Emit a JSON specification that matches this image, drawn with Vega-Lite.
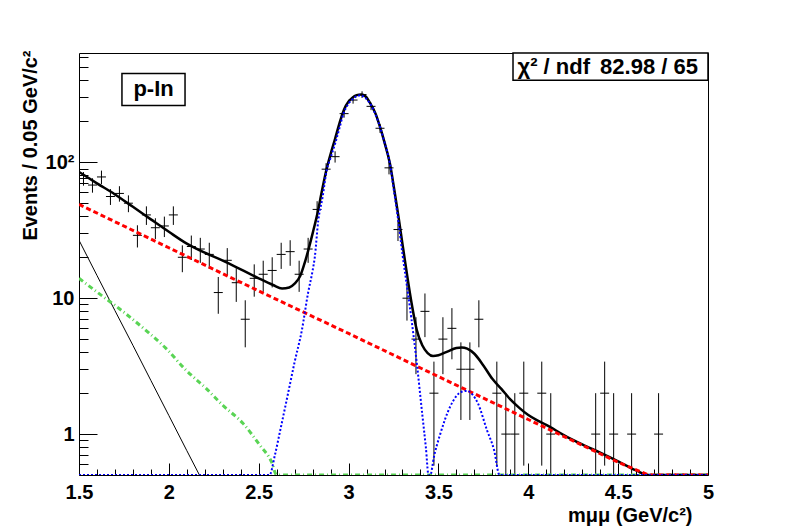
{
  "$schema": "https://vega.github.io/schema/vega-lite/v6.json",
  "width": 629,
  "height": 422,
  "autosize": {"type": "none"},
  "padding": {"left": 79, "top": 53, "right": 80, "bottom": 53},
  "background": "white",
  "config": {
    "view": {"stroke": "black", "strokeWidth": 1},
    "font": "Liberation Sans",
    "axis": {"grid": false, "domain": false, "tickColor": "black", "tickWidth": 1, "labelColor": "black", "titleColor": "black", "labelFont": "Liberation Sans", "titleFont": "Liberation Sans", "labelFontWeight": "bold", "titleFontWeight": "bold", "labelFontSize": 20, "titleFontSize": 20}
  },
  "datasets": {
    "pts": [
      {"x": 1.525, "n": 76, "lo": 67.28, "hi": 84.72, "xl": 1.5, "xr": 1.55},
      {"x": 1.575, "n": 68, "lo": 59.75, "hi": 76.25, "xl": 1.55, "xr": 1.6},
      {"x": 1.625, "n": 78, "lo": 69.17, "hi": 86.83, "xl": 1.6, "xr": 1.65},
      {"x": 1.675, "n": 56, "lo": 48.52, "hi": 63.48, "xl": 1.65, "xr": 1.7},
      {"x": 1.725, "n": 59, "lo": 51.32, "hi": 66.68, "xl": 1.7, "xr": 1.75},
      {"x": 1.775, "n": 50, "lo": 42.93, "hi": 57.07, "xl": 1.75, "xr": 1.8},
      {"x": 1.825, "n": 29, "lo": 23.61, "hi": 34.39, "xl": 1.8, "xr": 1.85},
      {"x": 1.875, "n": 41, "lo": 34.6, "hi": 47.4, "xl": 1.85, "xr": 1.9},
      {"x": 1.925, "n": 33, "lo": 27.26, "hi": 38.74, "xl": 1.9, "xr": 1.95},
      {"x": 1.975, "n": 34, "lo": 28.17, "hi": 39.83, "xl": 1.95, "xr": 2.0},
      {"x": 2.025, "n": 41, "lo": 34.6, "hi": 47.4, "xl": 2.0, "xr": 2.05},
      {"x": 2.075, "n": 20, "lo": 15.53, "hi": 24.47, "xl": 2.05, "xr": 2.1},
      {"x": 2.125, "n": 24, "lo": 19.1, "hi": 28.9, "xl": 2.1, "xr": 2.15},
      {"x": 2.175, "n": 23, "lo": 18.2, "hi": 27.8, "xl": 2.15, "xr": 2.2},
      {"x": 2.225, "n": 21, "lo": 16.42, "hi": 25.58, "xl": 2.2, "xr": 2.25},
      {"x": 2.275, "n": 11, "lo": 7.68, "hi": 14.32, "xl": 2.25, "xr": 2.3},
      {"x": 2.325, "n": 19, "lo": 14.64, "hi": 23.36, "xl": 2.3, "xr": 2.35},
      {"x": 2.375, "n": 13, "lo": 9.39, "hi": 16.61, "xl": 2.35, "xr": 2.4},
      {"x": 2.425, "n": 7, "lo": 4.35, "hi": 9.65, "xl": 2.4, "xr": 2.45},
      {"x": 2.475, "n": 14, "lo": 10.26, "hi": 17.74, "xl": 2.45, "xr": 2.5},
      {"x": 2.525, "n": 15, "lo": 11.13, "hi": 18.87, "xl": 2.5, "xr": 2.55},
      {"x": 2.575, "n": 16, "lo": 12, "hi": 20, "xl": 2.55, "xr": 2.6},
      {"x": 2.625, "n": 21, "lo": 16.42, "hi": 25.58, "xl": 2.6, "xr": 2.65},
      {"x": 2.675, "n": 22, "lo": 17.31, "hi": 26.69, "xl": 2.65, "xr": 2.7},
      {"x": 2.725, "n": 15, "lo": 11.13, "hi": 18.87, "xl": 2.7, "xr": 2.75},
      {"x": 2.775, "n": 23, "lo": 18.2, "hi": 27.8, "xl": 2.75, "xr": 2.8},
      {"x": 2.825, "n": 45, "lo": 38.29, "hi": 51.71, "xl": 2.8, "xr": 2.85},
      {"x": 2.875, "n": 89, "lo": 79.57, "hi": 98.43, "xl": 2.85, "xr": 2.9},
      {"x": 2.925, "n": 110, "lo": 99.51, "hi": 120.49, "xl": 2.9, "xr": 2.95},
      {"x": 2.975, "n": 228, "lo": 212.9, "hi": 243.1, "xl": 2.95, "xr": 3.0},
      {"x": 3.025, "n": 287, "lo": 270.06, "hi": 303.94, "xl": 3.0, "xr": 3.05},
      {"x": 3.075, "n": 315, "lo": 297.25, "hi": 332.75, "xl": 3.05, "xr": 3.1},
      {"x": 3.125, "n": 258, "lo": 241.94, "hi": 274.06, "xl": 3.1, "xr": 3.15},
      {"x": 3.175, "n": 178, "lo": 164.66, "hi": 191.34, "xl": 3.15, "xr": 3.2},
      {"x": 3.225, "n": 91, "lo": 81.46, "hi": 100.54, "xl": 3.2, "xr": 3.25},
      {"x": 3.275, "n": 32, "lo": 26.34, "hi": 37.66, "xl": 3.25, "xr": 3.3},
      {"x": 3.325, "n": 10, "lo": 6.84, "hi": 13.16, "xl": 3.3, "xr": 3.35},
      {"x": 3.375, "n": 5, "lo": 2.76, "hi": 7.24, "xl": 3.35, "xr": 3.4},
      {"x": 3.425, "n": 8, "lo": 5.17, "hi": 10.83, "xl": 3.4, "xr": 3.45},
      {"x": 3.475, "n": 2, "lo": 0.586, "hi": 3.414, "xl": 3.45, "xr": 3.5},
      {"x": 3.525, "n": 5, "lo": 2.76, "hi": 7.24, "xl": 3.5, "xr": 3.55},
      {"x": 3.575, "n": 6, "lo": 3.55, "hi": 8.45, "xl": 3.55, "xr": 3.6},
      {"x": 3.625, "n": 3, "lo": 1.27, "hi": 4.73, "xl": 3.6, "xr": 3.65},
      {"x": 3.675, "n": 3, "lo": 1.27, "hi": 4.73, "xl": 3.65, "xr": 3.7},
      {"x": 3.725, "n": 7, "lo": 4.35, "hi": 9.65, "xl": 3.7, "xr": 3.75},
      {"x": 3.825, "n": 2, "lo": 0.586, "hi": 3.414, "xl": 3.8, "xr": 3.85},
      {"x": 3.875, "n": 1, "lo": 0.5, "hi": 2, "xl": 3.85, "xr": 3.9},
      {"x": 3.925, "n": 1, "lo": 0.5, "hi": 2, "xl": 3.9, "xr": 3.95},
      {"x": 3.975, "n": 2, "lo": 0.586, "hi": 3.414, "xl": 3.95, "xr": 4.0},
      {"x": 4.075, "n": 2, "lo": 0.586, "hi": 3.414, "xl": 4.05, "xr": 4.1},
      {"x": 4.125, "n": 1, "lo": 0.5, "hi": 2, "xl": 4.1, "xr": 4.15},
      {"x": 4.375, "n": 1, "lo": 0.5, "hi": 2, "xl": 4.35, "xr": 4.4},
      {"x": 4.425, "n": 2, "lo": 0.586, "hi": 3.414, "xl": 4.4, "xr": 4.45},
      {"x": 4.475, "n": 1, "lo": 0.5, "hi": 2, "xl": 4.45, "xr": 4.5},
      {"x": 4.575, "n": 1, "lo": 0.5, "hi": 2, "xl": 4.55, "xr": 4.6},
      {"x": 4.725, "n": 1, "lo": 0.5, "hi": 2, "xl": 4.7, "xr": 4.75}
    ],
    "curves": [
      {"c": "total", "x": 1.5, "y": 85}, {"c": "total", "x": 1.6, "y": 70}, {"c": "total", "x": 1.7, "y": 58},
      {"c": "total", "x": 1.8, "y": 47}, {"c": "total", "x": 1.9, "y": 38}, {"c": "total", "x": 2.0, "y": 30.8},
      {"c": "total", "x": 2.1, "y": 25.2}, {"c": "total", "x": 2.2, "y": 21.6}, {"c": "total", "x": 2.3, "y": 18.9},
      {"c": "total", "x": 2.4, "y": 16.3}, {"c": "total", "x": 2.5, "y": 14}, {"c": "total", "x": 2.58, "y": 12.5},
      {"c": "total", "x": 2.63, "y": 11.8}, {"c": "total", "x": 2.67, "y": 12}, {"c": "total", "x": 2.7, "y": 12.8},
      {"c": "total", "x": 2.73, "y": 14.5}, {"c": "total", "x": 2.76, "y": 19}, {"c": "total", "x": 2.8, "y": 30},
      {"c": "total", "x": 2.83, "y": 44}, {"c": "total", "x": 2.85, "y": 60}, {"c": "total", "x": 2.88, "y": 92},
      {"c": "total", "x": 2.9, "y": 115}, {"c": "total", "x": 2.925, "y": 149}, {"c": "total", "x": 2.95, "y": 195},
      {"c": "total", "x": 2.975, "y": 245}, {"c": "total", "x": 3.0, "y": 280}, {"c": "total", "x": 3.02, "y": 298},
      {"c": "total", "x": 3.045, "y": 312}, {"c": "total", "x": 3.07, "y": 316}, {"c": "total", "x": 3.095, "y": 305},
      {"c": "total", "x": 3.12, "y": 272}, {"c": "total", "x": 3.15, "y": 228}, {"c": "total", "x": 3.175, "y": 182},
      {"c": "total", "x": 3.2, "y": 140}, {"c": "total", "x": 3.23, "y": 98}, {"c": "total", "x": 3.255, "y": 62},
      {"c": "total", "x": 3.28, "y": 38}, {"c": "total", "x": 3.3, "y": 25}, {"c": "total", "x": 3.325, "y": 15},
      {"c": "total", "x": 3.35, "y": 9.3}, {"c": "total", "x": 3.38, "y": 5.8}, {"c": "total", "x": 3.41, "y": 4.5},
      {"c": "total", "x": 3.44, "y": 3.95}, {"c": "total", "x": 3.47, "y": 3.75}, {"c": "total", "x": 3.5, "y": 3.8},
      {"c": "total", "x": 3.55, "y": 4.05}, {"c": "total", "x": 3.6, "y": 4.3}, {"c": "total", "x": 3.63, "y": 4.34},
      {"c": "total", "x": 3.66, "y": 4.25}, {"c": "total", "x": 3.7, "y": 3.9}, {"c": "total", "x": 3.75, "y": 3.2},
      {"c": "total", "x": 3.8, "y": 2.55}, {"c": "total", "x": 3.85, "y": 2.15}, {"c": "total", "x": 3.9, "y": 1.8},
      {"c": "total", "x": 3.95, "y": 1.56}, {"c": "total", "x": 4.0, "y": 1.38}, {"c": "total", "x": 4.05, "y": 1.26},
      {"c": "total", "x": 4.1, "y": 1.17}, {"c": "total", "x": 4.2, "y": 0.98}, {"c": "total", "x": 4.3, "y": 0.84},
      {"c": "total", "x": 4.4, "y": 0.73}, {"c": "total", "x": 4.5, "y": 0.63}, {"c": "total", "x": 4.6, "y": 0.54},
      {"c": "total", "x": 4.67, "y": 0.5}, {"c": "total", "x": 5.0, "y": 0.5},
      {"c": "blue", "x": 1.5, "y": 0.5}, {"c": "blue", "x": 2.56, "y": 0.5}, {"c": "blue", "x": 2.59, "y": 0.7},
      {"c": "blue", "x": 2.62, "y": 1.07}, {"c": "blue", "x": 2.66, "y": 1.9}, {"c": "blue", "x": 2.7, "y": 3.4},
      {"c": "blue", "x": 2.74, "y": 5.8}, {"c": "blue", "x": 2.775, "y": 11}, {"c": "blue", "x": 2.8, "y": 16},
      {"c": "blue", "x": 2.812, "y": 20}, {"c": "blue", "x": 2.831, "y": 37}, {"c": "blue", "x": 2.855, "y": 55},
      {"c": "blue", "x": 2.878, "y": 87}, {"c": "blue", "x": 2.9, "y": 108}, {"c": "blue", "x": 2.925, "y": 137},
      {"c": "blue", "x": 2.95, "y": 180}, {"c": "blue", "x": 2.97, "y": 225}, {"c": "blue", "x": 3.0, "y": 270},
      {"c": "blue", "x": 3.02, "y": 290}, {"c": "blue", "x": 3.045, "y": 306}, {"c": "blue", "x": 3.065, "y": 311},
      {"c": "blue", "x": 3.09, "y": 300}, {"c": "blue", "x": 3.12, "y": 270}, {"c": "blue", "x": 3.15, "y": 225},
      {"c": "blue", "x": 3.175, "y": 182}, {"c": "blue", "x": 3.2, "y": 140}, {"c": "blue", "x": 3.23, "y": 98},
      {"c": "blue", "x": 3.25, "y": 65}, {"c": "blue", "x": 3.278, "y": 36}, {"c": "blue", "x": 3.3, "y": 21},
      {"c": "blue", "x": 3.324, "y": 12.5}, {"c": "blue", "x": 3.35, "y": 7}, {"c": "blue", "x": 3.38, "y": 3.3},
      {"c": "blue", "x": 3.41, "y": 1.4}, {"c": "blue", "x": 3.43, "y": 0.8}, {"c": "blue", "x": 3.445, "y": 0.5},
      {"c": "blue", "x": 3.455, "y": 0.5}, {"c": "blue", "x": 3.475, "y": 0.68}, {"c": "blue", "x": 3.51, "y": 1.0},
      {"c": "blue", "x": 3.565, "y": 1.59}, {"c": "blue", "x": 3.63, "y": 2.05}, {"c": "blue", "x": 3.66, "y": 2.08},
      {"c": "blue", "x": 3.69, "y": 1.95}, {"c": "blue", "x": 3.72, "y": 1.68}, {"c": "blue", "x": 3.77, "y": 1.07},
      {"c": "blue", "x": 3.81, "y": 0.76}, {"c": "blue", "x": 3.84, "y": 0.5}, {"c": "blue", "x": 5.0, "y": 0.5},
      {"c": "green", "x": 1.5, "y": 14}, {"c": "green", "x": 1.612, "y": 10.8}, {"c": "green", "x": 1.723, "y": 8.4},
      {"c": "green", "x": 1.872, "y": 5.8}, {"c": "green", "x": 1.984, "y": 4.27}, {"c": "green", "x": 2.096, "y": 2.95},
      {"c": "green", "x": 2.207, "y": 2.17}, {"c": "green", "x": 2.3, "y": 1.63}, {"c": "green", "x": 2.412, "y": 1.2},
      {"c": "green", "x": 2.506, "y": 0.83}, {"c": "green", "x": 2.571, "y": 0.625}, {"c": "green", "x": 2.6, "y": 0.5},
      {"c": "green", "x": 5.0, "y": 0.5},
      {"c": "thin", "x": 1.5, "y": 26.7}, {"c": "thin", "x": 1.6, "y": 14.7}, {"c": "thin", "x": 1.7, "y": 8.1},
      {"c": "thin", "x": 1.8, "y": 4.5}, {"c": "thin", "x": 1.9, "y": 2.48}, {"c": "thin", "x": 2.0, "y": 1.37},
      {"c": "thin", "x": 2.1, "y": 0.755}, {"c": "thin", "x": 2.17, "y": 0.5},
      {"c": "red", "x": 1.5, "y": 49}, {"c": "red", "x": 2.0, "y": 23.5}, {"c": "red", "x": 2.5, "y": 11.3},
      {"c": "red", "x": 3.0, "y": 5.5}, {"c": "red", "x": 3.5, "y": 2.65}, {"c": "red", "x": 4.0, "y": 1.28},
      {"c": "red", "x": 4.5, "y": 0.62}, {"c": "red", "x": 4.67, "y": 0.5}, {"c": "red", "x": 5.0, "y": 0.5}
    ],
    "boxes": [
      {"name": "stat", "x1": 3.915, "x2": 5.0, "y1": 401, "y2": 637},
      {"name": "label", "x1": 1.739, "x2": 2.09, "y1": 262, "y2": 451}
    ],
    "texts": [
      {"t": "χ² / ndf", "x": 3.94, "y": 504, "pos": "left"},
      {"t": "82.98 / 65", "x": 4.944, "y": 504, "pos": "right"},
      {"t": "p-In", "x": 1.915, "y": 344, "pos": "center"}
    ]
  },
  "layer": [
    {
      "data": {"name": "pts"},
      "mark": {"type": "rule", "color": "black", "strokeWidth": 1, "clip": true},
      "encoding": {
        "x": {"field": "x", "type": "quantitative", "scale": {"domain": [1.5, 5], "nice": false, "zero": false},
          "axis": {"orient": "bottom", "values": [1.5, 2, 2.5, 3, 3.5, 4, 4.5, 5], "format": "~g", "tickSize": -12, "labelPadding": 19, "labelFlush": false, "labelOverlap": false,
            "title": "mμμ (GeV/c²)", "titleAnchor": "end", "titleAlign": "right", "titleBaseline": "alphabetic", "titleX": 613, "titleY": 46}},
        "y": {"field": "lo", "type": "quantitative", "scale": {"type": "log", "domain": [0.5, 637], "nice": false},
          "axis": {"orient": "left", "values": [1, 10, 100], "labelExpr": "datum.value == 100 ? '10²' : format(datum.value, 'd')", "tickSize": -18, "labelPadding": 23, "labelOverlap": false,
            "title": "Events / 0.05 GeV/c²", "titleAngle": 270, "titleAlign": "right", "titleBaseline": "middle", "titleX": -49, "titleY": -3}},
        "y2": {"field": "hi"}
      }
    },
    {
      "data": {"name": "pts"},
      "mark": {"type": "rule", "color": "black", "strokeWidth": 1, "clip": true},
      "encoding": {
        "x": {"field": "xl", "type": "quantitative", "scale": {"domain": [1.5, 5], "nice": false, "zero": false},
          "axis": {"orient": "bottom", "values": [1.6, 1.7, 1.8, 1.9, 2.1, 2.2, 2.3, 2.4, 2.6, 2.7, 2.8, 2.9, 3.1, 3.2, 3.3, 3.4, 3.6, 3.7, 3.8, 3.9, 4.1, 4.2, 4.3, 4.4, 4.6, 4.7, 4.8, 4.9], "tickSize": -6, "labels": false, "title": null}},
        "x2": {"field": "xr"},
        "y": {"field": "n", "type": "quantitative", "scale": {"type": "log", "domain": [0.5, 637], "nice": false},
          "axis": {"orient": "left", "values": [0.6, 0.7, 0.8, 0.9, 2, 3, 4, 5, 6, 7, 8, 9, 20, 30, 40, 50, 60, 70, 80, 90, 200, 300, 400, 500, 600], "tickSize": -9, "labels": false, "title": null}}
      }
    },
    {
      "data": {"name": "curves"},
      "transform": [{"filter": "datum.c == 'thin'"}],
      "mark": {"type": "line", "color": "black", "strokeWidth": 1, "interpolate": "monotone", "clip": true},
      "encoding": {
        "x": {"field": "x", "type": "quantitative", "axis": null},
        "y": {"field": "y", "type": "quantitative", "axis": null}
      }
    },
    {
      "data": {"name": "curves"},
      "transform": [{"filter": "datum.c == 'green'"}],
      "mark": {"type": "line", "color": "#59d454", "strokeWidth": 3, "strokeDash": [5, 3, 1, 3], "interpolate": "monotone", "clip": true},
      "encoding": {
        "x": {"field": "x", "type": "quantitative", "axis": null},
        "y": {"field": "y", "type": "quantitative", "axis": null}
      }
    },
    {
      "data": {"name": "curves"},
      "transform": [{"filter": "datum.c == 'total'"}],
      "mark": {"type": "line", "color": "black", "strokeWidth": 2.5, "interpolate": "monotone", "clip": true},
      "encoding": {
        "x": {"field": "x", "type": "quantitative", "axis": null},
        "y": {"field": "y", "type": "quantitative", "axis": null}
      }
    },
    {
      "data": {"name": "curves"},
      "transform": [{"filter": "datum.c == 'red'"}],
      "mark": {"type": "line", "color": "#ff0000", "strokeWidth": 3, "strokeDash": [5, 3], "interpolate": "linear", "clip": true},
      "encoding": {
        "x": {"field": "x", "type": "quantitative", "axis": null},
        "y": {"field": "y", "type": "quantitative", "axis": null}
      }
    },
    {
      "data": {"name": "curves"},
      "transform": [{"filter": "datum.c == 'blue'"}],
      "mark": {"type": "line", "color": "#0000ff", "strokeWidth": 2, "strokeDash": [2, 2], "interpolate": "monotone", "clip": true},
      "encoding": {
        "x": {"field": "x", "type": "quantitative", "axis": null},
        "y": {"field": "y", "type": "quantitative", "axis": null}
      }
    },
    {
      "data": {"name": "boxes"},
      "mark": {"type": "rect", "fill": "white", "stroke": "black", "strokeWidth": 1.5},
      "encoding": {
        "x": {"field": "x1", "type": "quantitative", "axis": null},
        "x2": {"field": "x2"},
        "y": {"field": "y1", "type": "quantitative", "axis": null},
        "y2": {"field": "y2"}
      }
    },
    {
      "data": {"name": "texts"},
      "transform": [{"filter": "datum.pos == 'left'"}],
      "mark": {"type": "text", "font": "Liberation Sans", "fontWeight": "bold", "fontSize": 22, "align": "left", "baseline": "middle", "color": "black"},
      "encoding": {
        "x": {"field": "x", "type": "quantitative", "axis": null},
        "y": {"field": "y", "type": "quantitative", "axis": null},
        "text": {"field": "t"}
      }
    },
    {
      "data": {"name": "texts"},
      "transform": [{"filter": "datum.pos == 'right'"}],
      "mark": {"type": "text", "font": "Liberation Sans", "fontWeight": "bold", "fontSize": 22, "align": "right", "baseline": "middle", "color": "black"},
      "encoding": {
        "x": {"field": "x", "type": "quantitative", "axis": null},
        "y": {"field": "y", "type": "quantitative", "axis": null},
        "text": {"field": "t"}
      }
    },
    {
      "data": {"name": "texts"},
      "transform": [{"filter": "datum.pos == 'center'"}],
      "mark": {"type": "text", "font": "Liberation Sans", "fontWeight": "bold", "fontSize": 22, "align": "center", "baseline": "middle", "color": "black"},
      "encoding": {
        "x": {"field": "x", "type": "quantitative", "axis": null},
        "y": {"field": "y", "type": "quantitative", "axis": null},
        "text": {"field": "t"}
      }
    }
  ],
  "resolve": {"axis": {"x": "independent", "y": "independent"}}
}
